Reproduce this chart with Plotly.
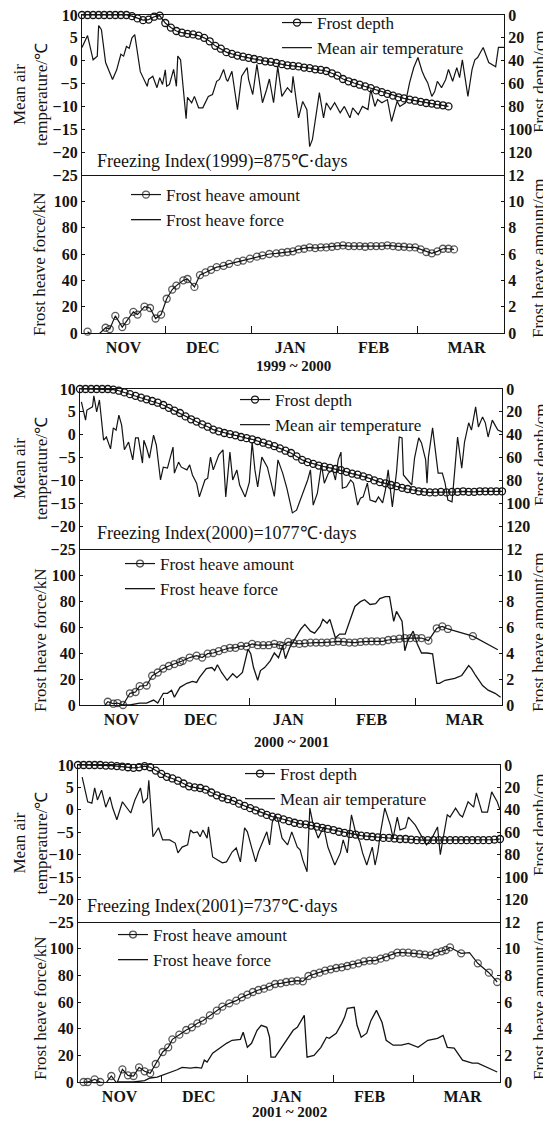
import plotly.graph_objects as go

# ===================== DATA (x = days since 1 November) =====================
month_edges = [30, 61, 92, 121]
month_label_days = [15, 43.5, 75, 105, 138.5]
month_names = ["NOV", "DEC", "JAN", "FEB", "MAR"]
season_labels = ["1999 ~ 2000", "2000 ~ 2001", "2001 ~ 2002"]
freezing_labels = ["Freezing Index(1999)=875℃·days",
                   "Freezing Index(2000)=1077℃·days",
                   "Freezing Index(2001)=737℃·days"]
temp_ticks = [10, 5, 0, -5, -10, -15, -20, -25]
depth_ticks = [0, 20, 40, 60, 80, 100, 120]
force_ticks = [0, 20, 40, 60, 80, 100]
amount_ticks = [0, 2, 4, 6, 8, 10, 12]

# ---- 1999-2000 ----
g1_temp_day = [0, 2, 4, 5.5, 6, 7, 8.5, 9.5, 11, 12.5, 14, 15, 16, 17, 18, 19, 21, 23.5, 24, 25.5,
               27, 28, 29, 30, 30.5, 31.5, 33, 34, 34.5, 35.5, 37.5, 38, 39.5, 40.5, 42, 43.5, 45.5, 47,
               48.5, 49.5, 51, 52, 52.5, 54, 56, 57.5, 59.5, 60, 61.5, 63, 64, 65, 66.5, 67.5, 69, 70.5,
               72, 74, 75.5, 76, 78, 79.5, 81, 82, 83, 84.5, 85.5, 87, 88, 89.5, 91, 93, 94.5, 96.5, 97.5,
               99.5, 101, 103, 104, 105.5, 106.5, 108, 110, 111.5, 113.5, 114.5, 116.5, 118, 119.5, 121,
               122.5, 123.5, 124.5, 126, 127, 128, 129.5, 131, 132, 133.5, 135, 136, 137, 139, 140.5,
               141.5, 142.5, 143.5, 144.5, 146.5, 149, 150, 152]
g1_temp = [2.9, 5.5, 0.2, 1.0, 7.7, 6.8, -0.4, -2.0, -4.1, -2.0, 1.4, 1.0, 3.1, 2.7, 5.0, 5.7, -2.4, -5.6, -4.1, -3.4,
           -5.9, -3.7, -5.2, -2.0, -5.6, -5.2, -1.9, -5.6, 1.0, 0.2, -12.7, -8.0, -9.2, -7.8, -10.3, -10.3, -7.8, -7.4,
           -4.5, -4.1, -1.9, -4.1, -4.5, -2.3, -10.7, -3.4, -1.5, -4.1, -7.4, -0.8, -4.8, -9.2, -6.3, -4.0, -9.2, -1.3,
           -7.8, -5.9, -7.0, -3.4, -12.5, -8.9, -10.7, -18.8, -17.2, -11.4, -7.0, -12.5, -9.2, -10.7, -9.2, -11.4, -10.0, -12.5, -10.3,
           -11.8, -10.0, -10.7, -6.3, -10.0, -8.5, -9.2, -8.5, -13.3, -8.9, -10.0, -9.2, -4.8, -1.5, 0.7,
           -2.3, -3.7, -4.8, -7.8, -6.8, -4.5, -5.9, -4.1, -1.9, -4.5, -1.5, -3.7, 0.2, -7.8, -1.9,
           0.2, 0.7, 1.8, 2.9, -0.4, -1.3, 2.9, 2.9]
g1_depth_day = [0, 2, 4, 6, 8, 10, 12, 14, 16, 18, 20, 22, 24, 26, 28, 30, 32, 34, 36, 38, 40, 42, 44, 46, 48,
                50, 52, 54, 56, 58, 60, 62, 64, 66, 68, 70, 72, 74, 76, 78, 80, 82, 84, 86, 88, 90, 92, 94, 96,
                98, 100, 102, 104, 106, 108, 110, 112, 114, 116, 118, 120, 122, 124, 126, 128, 130, 132]
g1_depth = [0, 0, 0, 0, 0, 0, 0, 0, 0, 1, 3, 4.5, 4, 1.5, 0.5, 7, 11, 14, 15.5, 16.5, 17, 18, 20, 23, 27,
            29.5, 32.5, 34, 35.5, 36.5, 37.5, 38.5, 39.5, 40.5, 41, 42, 43, 44, 44.5, 45, 46, 46.5, 47.5, 48, 49,
            51, 53, 56, 58, 59.5, 61, 62.5, 64, 66, 67.5, 69, 70.5, 72, 73, 74, 75, 76, 77, 77.5, 78.5, 79, 80]
g1_amount_day = [2, 4, 6, 8.5, 10, 12, 14.5, 16, 18.5, 20, 22.5, 24.5, 26.5, 28.5, 30.5, 32.5, 34, 36.5, 38, 40.5,
                 42.5, 44.5, 46.5, 48.5, 51, 53, 56, 58, 60.5, 63, 65, 67.5, 70, 72, 74, 76, 78, 80, 82, 84,
                 86, 88, 90, 92, 94, 96, 98, 100, 102, 104, 106, 108, 110, 112, 114, 116, 118, 120, 122, 124,
                 126, 128, 130, 132, 134]
g1_amount = [0.1, -0.2, -0.1, 0.4, 0.3, 1.3, 0.45, 0.9, 1.6, 1.4, 2.0, 1.9, 1.1, 1.4, 2.6, 3.3, 3.6, 4.0, 4.1, 3.5,
             4.4, 4.6, 4.8, 5.0, 5.1, 5.25, 5.4, 5.5, 5.65, 5.8, 5.9, 6.0, 6.05, 6.1, 6.15, 6.2, 6.35, 6.4, 6.5, 6.45,
             6.5, 6.5, 6.55, 6.6, 6.65, 6.6, 6.6, 6.6, 6.55, 6.6, 6.6, 6.6, 6.65, 6.6, 6.55, 6.55, 6.5, 6.5, 6.35, 6.15,
             6.05, 6.2, 6.4, 6.4, 6.35]
g1_force_day = [None]
g1_force = [None]

# ---- 2000-2001 ----
g2_temp_day = [0.5, 2, 2.5, 4.5, 5, 6, 7, 8.5, 9.5, 11, 12, 13, 14, 15, 16, 17.5, 19, 20, 21, 22.5,
               23, 24, 25, 26.5, 27.5, 29, 30, 31.5, 33.5, 34, 35.5, 36.5, 38.5, 39.5, 40.5, 42, 43, 45, 46, 47,
               48, 49, 50, 51.5, 52.5, 54, 55, 56.5, 57.5, 59.5, 61, 62, 63, 64, 65.5, 67.5, 69, 70, 71.3, 73,
               74.5, 76.5, 78, 80, 82, 83, 84, 85.5, 87, 88, 89.5, 91, 92, 93, 94, 94.5, 96, 97.5, 98.5, 100,
               101, 102, 103.5, 104.5, 106.5, 107.5, 109, 110, 111, 112.5, 114, 115, 116, 116.5, 118, 119.5,
               120.5, 122, 123, 124.5, 125, 125.5, 127, 128, 129, 130.5, 131.5, 132.5, 134, 135, 136, 137.5,
               138.5, 140, 141, 142.5, 143.5, 145, 146, 147, 148.5, 149.5, 150.5, 152]
g2_temp = [7.2, 3.2, 5.4, 6.1, 8.5, 5.0, 7.6, -1.2, -0.5, -3.1, 1.5, 1.0, 4.3, 2.1, -3.3, -1.6, -5.5, -0.7, -0.7, -6.2,
           -1.2, -2.9, -5.1, -0.1, -2.3, -9.9, -7.1, -7.3, -2.7, -8.4, -6.0, -7.1, -7.7, -6.6, -8.8, -10.6, -13.6, -9.9, -9.5, -4.9,
           -7.7, -6.0, -4.4, -3.3, -13.6, -3.8, -9.9, -7.7, -11.0, -13.6, -10.4, -1.6, -7.7, -11.4, -4.9, -7.1, -11.4, -13.5, -5.5, -8.4,
           -11.7, -17.1, -16.5, -13.2, -9.9, -7.7, -15.4, -12.8, -6.6, -10.6, -8.4, -7.7, -9.9, -5.5, -3.8, -11.7, -11.4, -9.9, -10.6, -15.4,
           -13.9, -13.6, -10.6, -14.3, -14.7, -13.6, -14.9, -12.1, -7.7, -15.8, -8.2, -0.5, -0.7, -8.8, -9.9, -11.0,
           -5.1, -0.7, -1.8, -5.5, -10.6, -4.9, 1.5, -3.3, -8.4, -8.4, -10.6, -14.3, -14.7, -7.7, -0.5, -7.3,
           -1.6, 2.6, 1.0, 6.1, 1.7, 3.9, 2.6, -0.5, 3.2, 2.1, 1.0, 0.6]
g2_depth_day = [0, 2, 4, 6, 8, 10, 12, 14, 16, 18, 20, 22, 24, 26, 28, 30, 32, 34, 36, 38, 40, 42, 44, 46, 48,
                50, 52, 54, 56, 58, 60, 62, 64, 66, 68, 70, 72, 74, 76, 78, 80, 82, 84, 86, 88, 90, 92, 94, 96,
                98, 100, 102, 104, 106, 108, 110, 112, 114, 116, 118, 120, 122, 124, 126, 128, 130, 132, 134,
                136, 138, 140, 142, 144, 146, 148, 150, 152]
g2_depth = [0, 0, 0, 0, 0, 0, 0.5, 1.5, 3, 4.5, 6, 7.5, 9, 10.5, 12, 14, 16.5, 19, 21, 24,
            26.5, 28.5, 31, 33, 35.5, 37, 38.5, 39.5, 40.5, 42, 43, 44, 45.5, 47, 48.5, 50, 52, 54, 56, 59,
            62, 64, 65.5, 67, 68, 69, 70, 71, 72.5, 74, 75, 76.5, 78, 80, 81.5, 82.5, 84, 85, 86.5, 87.5,
            88.5, 89.5, 90, 90.5, 90.5, 90, 90.5, 90, 90, 89.5, 90, 90, 89.5, 89.5, 89.5, 89.5, 89.5]
g2_amount_day = [2, 3.5, 5.5, 7, 8.5, 10, 12, 13.5, 15.5, 18, 20, 21.5, 24, 26, 28, 30, 32, 34, 36, 37,
                 39.5, 42, 44, 46, 48, 50, 52, 54, 56, 58, 60, 62, 64, 66, 68, 70, 72, 73, 75, 77,
                 79, 81, 83, 85, 87, 89, 91, 93, 95, 97, 99, 101, 103, 105, 107, 109, 111, 113, 115, 117,
                 119, 121, 123, 125.5, 128.5, 130.5, 132.5, 141.5, 150.5]
g2_amount = [-0.15, -0.3, -0.25, -0.25, -0.15, 0.25, 0.1, 0.15, 0, 0.9, 1.0, 1.45, 1.5, 2.25, 2.5, 2.8, 3.0, 3.15, 3.3, 3.4,
             3.65, 3.8, 3.65, 3.95, 4.0, 4.15, 4.3, 4.4, 4.4, 4.55, 4.5, 4.7, 4.6, 4.6, 4.6, 4.7, 4.6, 4.55, 4.85, 4.75,
             4.7, 4.75, 4.8, 4.8, 4.8, 4.8, 4.85, 4.9, 4.85, 4.8, 4.8, 4.85, 4.9, 4.9, 4.9, 4.9, 5.0, 5.05, 5.1, 5.15,
             5.15, 5.15, 5.15, 4.95, 5.9, 6.05, 5.85, 5.3, 4.25]
g2_force_day = [15.5, 18, 21.5, 24, 26.5, 28, 30, 31.5, 33, 34, 36, 38.5, 40.5, 42, 43, 45.5, 47.5, 48.5, 49.5, 51,
                53, 55, 56.5, 58.5, 59.5, 60.5, 61.5, 62.5, 64, 65, 66.5, 68.5, 70, 71.5, 73, 74, 75.5, 77.5, 79.5, 81,
                83, 84.5, 86.5, 87.5, 89, 90, 92, 93.5, 95.5, 97.5, 99, 101, 102.5, 104.5, 106.5, 108, 110, 111.5, 113, 114,
                116, 117, 118, 120, 121.5, 123, 125, 127, 128.5, 129.5, 131.5, 135, 137.5, 140, 141, 142.5, 145, 147, 149.5, 151.5]
g2_force = [0, 0, 1.5, 1.5, 3.8, 1.5, 9, 9, 11.4, 6, 13.6, 16.7, 18.2, 17.4, 21, 28, 28.8, 26.5, 31, 25,
            19, 24, 21, 25, 34, 43, 39.4, 28.8, 19, 26.5, 28.8, 34, 40, 36.4, 45.5, 35.6, 44, 51.5, 58.3, 62,
            56.8, 55.3, 60.6, 65.9, 62.9, 65.9, 51.5, 54.5, 54.5, 66.7, 75.8, 79.5, 81, 77.3, 78, 81.8, 83.3, 83.3, 64.4, 72,
            64.4, 41.7, 49, 56.8, 47, 40, 40, 39.4, 16.7, 16.7, 19, 20.5, 22.7, 30.3, 28, 22.7, 15, 11.4, 9, 6]

# ---- 2001-2002 ----
g3_temp_day = [1.5, 2.5, 3.5, 5, 6, 7, 8.5, 10, 11.5, 12.5, 14, 16, 17.5, 19, 20.5, 22.5, 23.5, 25, 25.5, 27,
               29, 30.5, 33, 35, 36, 37.5, 39.5, 40.5, 41.5, 43, 44, 45, 46.5, 47, 48.5, 50.5, 52, 53.5, 55.5, 57,
               58.5, 60, 61, 62.5, 64, 65, 66.5, 68, 69, 70, 71, 72, 73.5, 75.5, 77, 79, 80, 81, 82.5, 83.5,
               84.5, 86.5, 88.5, 90, 92.5, 94.5, 95.5, 97, 98.5, 100, 101.5, 102.5, 104, 106, 107, 108, 109, 110.5,
               112.5, 113.5, 115, 116, 118, 119, 121.5, 124, 125.5, 127.5, 129.5, 130.5, 131.5, 133, 134, 136,
               137.5, 138.5, 140.5, 142.5, 143.5, 145.5, 147.5, 149, 151, 152]
g3_temp = [7.3, 4.4, 1.8, 1.5, 4.9, 2.2, 4.4, 0.6, 2.9, 0.4, -2.2, 1.8, 0.4, -0.7, 2.2, 4.9, 1.5, 2.6, 6.6, -6.0,
           -4.0, -6.7, -6.7, -7.4, -9.6, -8.3, -7.8, -4.5, -5.1, -4.9, -6.0, -4.5, -6.3, -3.8, -10.5, -11.2, -11.8, -11.6, -9.4, -8.5,
           -11.6, -4.0, -4.9, -8.3, -11.6, -9.4, -7.1, -4.9, -7.8, -2.7, -1.2, -2.2, -6.3, -7.8, -4.9, -8.3, -8.9, -11.2, -13.8, 0.4,
           -2.7, -6.3, -3.8, -8.3, -12.3, -9.6, -6.7, -9.6, -1.1, -5.1, -7.1, -9.6, -12.3, -8.3, -12.3, -9.4, -4.9, 0.4,
           -3.4, -6.3, -1.6, -4.5, -4.0, -1.6, -3.4, -6.0, -7.8, -6.3, -3.8, -10.0, -6.3, -1.1, -1.6, 0.4,
           -1.1, -1.6, 1.8, 0.6, 3.8, -0.5, -0.5, 4.0, 1.8, 0.0]
g3_depth_day = [0, 2, 4, 6, 8, 10, 12, 14, 16, 18, 20, 22, 24, 26, 28, 30, 32, 34, 36, 38, 40, 42, 44, 46, 48,
                50, 52, 54, 56, 58, 60, 62, 64, 66, 68, 70, 72, 74, 76, 78, 80, 82, 84, 86, 88, 90, 92, 94, 96,
                98, 100, 102, 104, 106, 108, 110, 112, 114, 116, 118, 120, 122, 124, 126, 128, 130, 132, 134,
                136, 138, 140, 142, 144, 146, 148, 150, 152]
g3_depth = [0, 0, 0, 0, 0, 0.5, 0.5, 1, 1.5, 2, 2.5, 2, 1, 2, 5, 8, 10.5, 12, 14, 16.5,
            19, 20, 20.5, 22, 24.5, 27, 29, 30.5, 32, 34.5, 36.5, 38.5, 40.5, 42.5, 44.5, 46, 47, 48.5, 50, 51.5,
            52.5, 53, 54, 55, 56, 57, 58, 59.5, 60.5, 61.5, 62, 63, 63.5, 64, 64.5, 65, 65, 65.5, 66, 66,
            66.5, 67, 67, 67, 67, 67, 67, 67, 67, 67, 67, 67, 67, 67, 67, 66.5, 66]
g3_amount_day = [2, 3.5, 6, 8, 10, 12, 14, 16, 18, 20, 22, 24, 26, 28, 30.5, 32.5, 34, 36.5, 39, 41,
                 43, 45, 47.5, 50, 52, 54.5, 57, 59, 61, 63, 65, 67, 69, 71, 73, 75, 77, 79, 81, 83,
                 85, 87, 89, 91, 93, 95, 97, 99, 101, 103, 105, 107, 109, 111, 113, 115, 117, 119, 121, 123,
                 125, 127, 129, 131, 132.5, 134, 138, 141, 144, 148, 151]
g3_amount = [0, 0, 0.2, 0, -0.1, 0.45, -0.1, 0.95, 0.5, 0.45, 1.1, 0.8, 0.65, 1.35, 2.25, 2.6, 3.2, 3.55, 3.9, 4.1,
             4.4, 4.6, 5.0, 5.35, 5.65, 5.9, 6.1, 6.35, 6.55, 6.75, 6.9, 7.0, 7.15, 7.35, 7.4, 7.5, 7.55, 7.6, 7.55, 7.95,
             8.1, 8.2, 8.35, 8.45, 8.55, 8.6, 8.7, 8.8, 8.9, 9.05, 9.1, 9.1, 9.25, 9.35, 9.5, 9.7, 9.7, 9.7, 9.65, 9.6,
             9.55, 9.5, 9.7, 9.8, 9.9, 10.1, 9.65, 9.7, 8.9, 8.2, 7.5]
g3_force_day = [14, 20, 24, 26, 28.5, 30.5, 33, 35.5, 37.5, 40.5, 42.5, 44.5, 45.5, 46.5, 48.5, 51, 53.5, 55.5, 58.5, 59.5,
                61, 62.5, 64.5, 66, 68, 69, 69.5, 71, 75.5, 77.5, 79, 80.5, 81.5, 82.5, 85, 87.5, 89.5, 90.5, 93, 95,
                96, 97, 99.5, 100.5, 102, 104, 105.5, 107.5, 109.5, 111, 113.5, 116.5, 119, 122.5, 126, 129.5, 131.5, 133, 135.5, 138.5,
                142, 144, 147.5, 151]
g3_force = [0, 0, 1, 3, 3.7, 5.2, 6.7, 9, 11, 10.4, 11, 10.4, 16.4, 15, 21.6, 25.4, 29, 31.3, 32, 37.3,
            26, 29, 38.8, 42.5, 41, 33.6, 18.7, 18.7, 32.8, 38.8, 41, 46, 50, 18.7, 20, 26, 33.6, 32.8, 36.6, 44,
            48.5, 55.2, 56, 42.5, 33.6, 36.6, 46, 53.7, 44.8, 31.3, 27.6, 27.6, 29, 26, 31.3, 32.8, 35, 26, 25.4, 16.4,
            14.2, 14.2, 11, 7.5]

# days on which the amount curve has no circle drawn
g2_amount_nomark = [150.5]
g3_amount_nomark = [141]

# ===================== FIGURE =====================
W, H = 551, 1121
PAGE_OFFSET = 8   # the page body margin shifts the figure by this many pixels
FONT = "Liberation Serif"
INK = "#141414"
TXT = 17      # annotation / legend text size
TICK = 16     # tick label size

series = [
    dict(td=g1_temp_day, t=g1_temp, dd=g1_depth_day, d=g1_depth, ad=g1_amount_day, a=g1_amount,
         fd=g1_force_day, f=g1_force, nomark=[]),
    dict(td=g2_temp_day, t=g2_temp, dd=g2_depth_day, d=g2_depth, ad=g2_amount_day, a=g2_amount,
         fd=g2_force_day, f=g2_force, nomark=g2_amount_nomark),
    dict(td=g3_temp_day, t=g3_temp, dd=g3_depth_day, d=g3_depth, ad=g3_amount_day, a=g3_amount,
         fd=g3_force_day, f=g3_force, nomark=g3_amount_nomark),
]

# pixel geometry of each block (screen pixels)
geom = [
    dict(xl=82, xr=504, top=15, mid=175, bot=333, fi=(95, 161), season=366,
         lt=(277, 5), lb=(126, 177), ft=264, dt=82, at=258),
    dict(xl=80, xr=502, top=389, mid=549, bot=705, fi=(95, 533), season=742,
         lt=(235, 382), lb=(120, 546), ft=640, dt=455, at=632),
    dict(xl=78, xr=500, top=765, mid=922, bot=1082, fi=(85, 906), season=1112,
         lt=(240, 756), lb=(113, 917), ft=1008, dt=825, at=1000),
]


def px_x(x):
    return (x - PAGE_OFFSET) / W


def px_y(y):
    return 1 - (y - PAGE_OFFSET) / H


def nm(prefix, n):
    return prefix if n == 1 else f"{prefix}{n}"


fig = go.Figure()
layout = dict(width=W, height=H, margin=dict(l=0, r=0, t=0, b=0, pad=0, autoexpand=False),
              paper_bgcolor="white", plot_bgcolor="white", showlegend=True,
              font=dict(family=FONT, size=TXT, color=INK))
annotations = []

tickfont = dict(family=FONT, size=TICK, color=INK, weight="bold")
marker_style = dict(symbol="circle-open", size=7, color=INK, line=dict(width=1.3, color=INK))

for i, (g, s) in enumerate(zip(geom, series)):
    xt, xb = 2 * i + 1, 2 * i + 2
    yt, yd, yf, ya = 4 * i + 1, 4 * i + 2, 4 * i + 3, 4 * i + 4
    leg_t, leg_b = nm("legend", 2 * i + 1), nm("legend", 2 * i + 2)

    fig.add_trace(go.Scatter(x=s["dd"], y=s["d"], xaxis=nm("x", xt), yaxis=nm("y", yd),
                             mode="lines+markers", name="Frost depth", legend=leg_t,
                             line=dict(color=INK, width=1.2), marker=marker_style, cliponaxis=False))
    fig.add_trace(go.Scatter(x=s["td"], y=s["t"], xaxis=nm("x", xt), yaxis=nm("y", yt),
                             mode="lines", name="Mean air temperature", legend=leg_t,
                             line=dict(color=INK, width=1.2), cliponaxis=False))
    sizes = [0 if d in s["nomark"] else 7 for d in s["ad"]]
    fig.add_trace(go.Scatter(x=s["ad"], y=s["a"], xaxis=nm("x", xb), yaxis=nm("y", ya),
                             mode="lines+markers", name="Frost heave amount", legend=leg_b,
                             line=dict(color=INK, width=1.2),
                             marker=dict(marker_style, size=sizes), cliponaxis=False))
    fig.add_trace(go.Scatter(x=s["fd"], y=s["f"], xaxis=nm("x", xb), yaxis=nm("y", yf),
                             mode="lines", name="Frost heave force", legend=leg_b,
                             line=dict(color=INK, width=1.3), cliponaxis=False))

    dom_x = [px_x(g["xl"]), px_x(g["xr"])]
    dom_top = [px_y(g["mid"]), px_y(g["top"])]
    dom_bot = [px_y(g["bot"]), px_y(g["mid"])]
    common = dict(showgrid=False, zeroline=False, showline=True, linecolor=INK, linewidth=1.3,
                  automargin=False, ticklabeloverflow="allow")

    layout[nm("xaxis", xt)] = dict(common, domain=dom_x, range=[0, 152], anchor=nm("y", yt),
                                   mirror=True, ticks="", showticklabels=False)
    layout[nm("xaxis", xb)] = dict(common, domain=dom_x, range=[0, 152], anchor=nm("y", yf),
                                   tickmode="array", tickvals=month_label_days, ticktext=month_names,
                                   ticks="", tickfont=tickfont,
                                   minor=dict(tickmode="array", tickvals=month_edges, ticks="inside",
                                              ticklen=7, tickwidth=1.2, tickcolor=INK, showgrid=False))
    layout[nm("yaxis", yt)] = dict(common, domain=dom_top, range=[-25, 10], anchor=nm("x", xt),
                                   side="left", tickmode="array", tickvals=temp_ticks,
                                   ticks="inside", ticklen=3, tickcolor=INK, tickfont=tickfont)
    layout[nm("yaxis", yd)] = dict(common, range=[140, 0], anchor=nm("x", xt), overlaying=nm("y", yt),
                                   side="right", tickmode="array", tickvals=depth_ticks,
                                   ticks="inside", ticklen=3, tickcolor=INK, tickfont=tickfont)
    layout[nm("yaxis", yf)] = dict(common, domain=dom_bot, range=[0, 120], anchor=nm("x", xb),
                                   side="left", tickmode="array", tickvals=force_ticks,
                                   ticks="inside", ticklen=3, tickcolor=INK, tickfont=tickfont)
    layout[nm("yaxis", ya)] = dict(common, range=[0, 12], anchor=nm("x", xb), overlaying=nm("y", yf),
                                   side="right", tickmode="array", tickvals=amount_ticks,
                                   ticks="inside", ticklen=3, tickcolor=INK, tickfont=tickfont)

    legend_common = dict(xanchor="left", yanchor="top", bgcolor="rgba(0,0,0,0)", borderwidth=0,
                         font=dict(family=FONT, size=TXT, color=INK), tracegroupgap=0,
                         traceorder="normal")
    layout[leg_t] = dict(legend_common, x=px_x(g["lt"][0]), y=px_y(g["lt"][1]))
    layout[leg_b] = dict(legend_common, x=px_x(g["lb"][0]), y=px_y(g["lb"][1]))

    ann_font = dict(family=FONT, size=TXT, color=INK)
    annotations += [
        dict(text=freezing_labels[i], x=px_x(g["fi"][0]), y=px_y(g["fi"][1]), xref="paper", yref="paper",
             xanchor="left", yanchor="middle", showarrow=False, font=dict(ann_font, size=18)),
        dict(text=season_labels[i], x=px_x((g["xl"] + g["xr"]) / 2), y=px_y(g["season"]), xref="paper",
             yref="paper", xanchor="center", yanchor="middle", showarrow=False,
             font=dict(ann_font, size=15, weight="bold")),
        dict(text="Mean air<br>temperature/℃", x=px_x(30), y=px_y((g["top"] + g["mid"]) / 2),
             xref="paper", yref="paper", xanchor="center", yanchor="middle", textangle=-90,
             showarrow=False, font=ann_font),
        dict(text="Frost heave force/kN", x=px_x(40), y=px_y(g["ft"]), xref="paper", yref="paper",
             xanchor="center", yanchor="middle", textangle=-90, showarrow=False, font=ann_font),
        dict(text="Frost depth/cm", x=px_x(540), y=px_y(g["dt"]), xref="paper", yref="paper",
             xanchor="center", yanchor="middle", textangle=-90, showarrow=False, font=ann_font),
        dict(text="Frost heave amount/cm", x=px_x(539), y=px_y(g["at"]), xref="paper", yref="paper",
             xanchor="center", yanchor="middle", textangle=-90, showarrow=False, font=ann_font),
    ]

layout["annotations"] = annotations
fig.update_layout(**layout)
fig.write_html("out.html")
